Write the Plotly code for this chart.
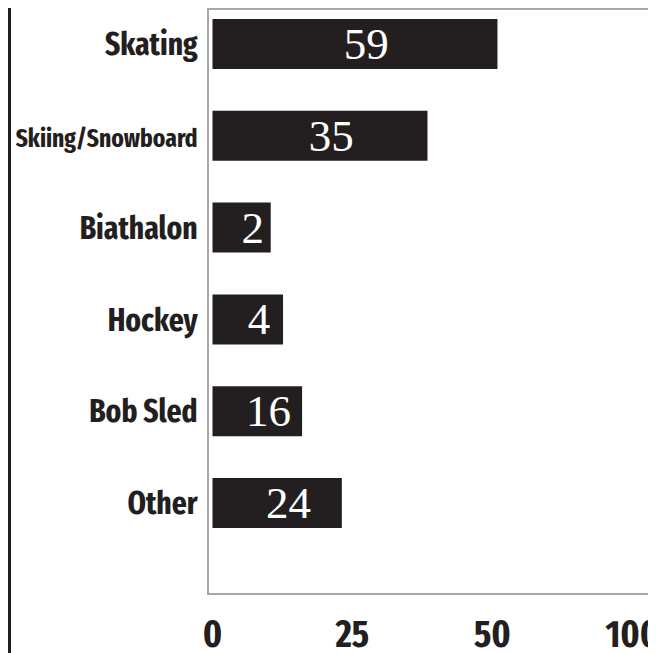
import plotly.graph_objects as go

# ---- data ----
categories = ["Skating", "Skiing/Snowboard", "Biathalon", "Hockey", "Bob Sled", "Other"]
bar_lengths = [50.9, 38.4, 10.4, 12.6, 16.0, 23.1]   # bar lengths in axis units
value_labels = [59, 35, 2, 4, 16, 24]                # numbers printed in the bars
tick_values = [0, 25, 50, 75]
tick_labels = ["0", "25", "50", "100"]

INK = "#231f20"
BORDER = "#a7a7a7"
SANS = "Fira Sans Extra Condensed, Archivo Narrow, DejaVu Sans Condensed, sans-serif"
SERIF = "Liberation Serif, Times New Roman, serif"

# the long label is set smaller in the reference so it fits
LABEL_SIZE = 32
LABEL_SIZE_SMALL = {"Skiing/Snowboard": 25.5}

# page body adds an 8px offset, so the figure is 8px smaller than the window
W, H = 648, 645
L, R, T, B = 201, 4, 2, 60

fig = go.Figure(
    go.Bar(
        x=bar_lengths,
        y=categories,
        orientation="h",
        width=0.545,
        marker=dict(color=INK, line=dict(width=0)),
        text=[str(v) for v in value_labels],
        texttemplate="\u00a0\u00a0%{text}",
        textposition="inside",
        insidetextanchor="middle",
        textangle=0,
        constraintext="none",
        insidetextfont=dict(family=SERIF, size=45, color="white"),
        hoverinfo="skip",
    )
)

y_ticktext = [
    f'<span style="font-size:{LABEL_SIZE_SMALL[c]}px">{c}</span>' if c in LABEL_SIZE_SMALL else c
    for c in categories
]

plot_w = W - L - R
plot_h = H - T - B
line_x = (1.5 - L) / plot_w

fig.update_layout(
    width=W,
    height=H,
    margin=dict(l=L, r=R, t=T, b=B, pad=0, autoexpand=False),
    paper_bgcolor="white",
    plot_bgcolor="white",
    showlegend=False,
    xaxis=dict(
        range=[-0.625, 78.5],
        tickvals=tick_values,
        ticktext=tick_labels,
        showgrid=False,
        zeroline=False,
        showline=True,
        mirror=True,
        linecolor=BORDER,
        linewidth=2,
        ticks="",
        automargin=False,
        ticklabelstandoff=6,
        ticklabeloverflow="allow",
        tickfont=dict(family=SANS, size=38, color=INK, weight="bold"),
        fixedrange=True,
    ),
    yaxis=dict(
        type="category",
        categoryorder="array",
        categoryarray=categories,
        tickvals=categories,
        ticktext=y_ticktext,
        range=[5.98, -0.37],
        showgrid=False,
        zeroline=False,
        showline=True,
        mirror=True,
        linecolor=BORDER,
        linewidth=2,
        ticks="",
        automargin=False,
        ticklabelstandoff=3,
        ticklabeloverflow="allow",
        tickfont=dict(family=SANS, size=LABEL_SIZE, color=INK, weight="bold"),
        fixedrange=True,
    ),
    shapes=[
        dict(
            type="line",
            xref="paper",
            yref="paper",
            x0=line_x,
            x1=line_x,
            y0=-(B + 5) / plot_h,
            y1=1 + (T + 5) / plot_h,
            line=dict(color=INK, width=3),
        )
    ],
)

fig.write_html("out.html")
